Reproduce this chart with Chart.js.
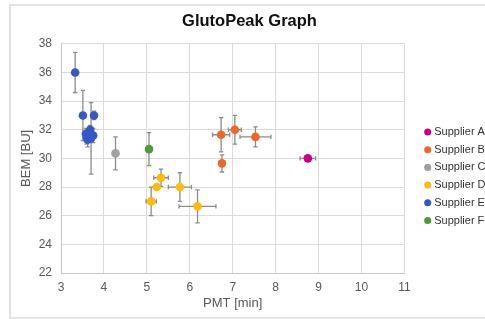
<!DOCTYPE html>
<html lang="en">
<head>
<meta charset="UTF-8">
<title>GlutoPeak Graph</title>
<script src="https://cdn.jsdelivr.net/npm/chart.js"></script>
<style>
  body { margin: 0; background: #fff; font-family: "Liberation Sans", Arial, sans-serif; }
  #frame { position: absolute; left: 9px; top: 4px; width: 490px; height: 311px; border: 2px solid #e4e4e4; border-right: none; }
  #wrap { position: absolute; left: 0; top: 0; width: 485px; height: 319px; }
</style>
</head>
<body>
<div id="frame"></div>
<div id="wrap"><canvas id="chart" width="485" height="319"></canvas></div>
<script>
// x = PMT [min], y = BEM [BU], xErr / yErr = half-length of error bars
const supplierNames = ['Supplier A', 'Supplier B', 'Supplier C', 'Supplier D', 'Supplier E', 'Supplier F'];
const supplierColors = ['#c8007f', '#e8692a', '#a0a0a0', '#fdbb0a', '#3557c8', '#4d9a37'];

const aX = [8.75], aY = [30.0], aXErr = [0.18], aYErr = [0.1];
const bX = [6.73, 7.05, 7.53, 6.75], bY = [31.65, 32.0, 31.5, 29.65];
const bXErr = [0.2, 0.15, 0.36, 0.06], bYErr = [1.2, 1.0, 0.7, 0.6];
const cX = [4.27], cY = [30.35], cXErr = [0], cYErr = [1.15];
const dX = [5.1, 5.23, 5.33, 5.77, 6.18], dY = [27.0, 28.0, 28.65, 28.0, 26.65];
const dXErr = [0.12, 0.05, 0.17, 0.27, 0.43], dYErr = [1.0, 0.1, 0.6, 1.0, 1.15];
const eX = [3.33, 3.51, 3.77, 3.6, 3.66, 3.68, 3.75, 3.62, 3.7, 3.58];
const eY = [36.0, 33.0, 33.0, 31.5, 31.8, 32.0, 31.6, 31.3, 31.4, 31.7];
const eXErr = [0, 0, 0, 0.05, 0.05, 0.05, 0.05, 0.05, 0, 0.04];
const eYErr = [1.4, 1.75, 0.3, 0.5, 0.4, 0.3, 0.5, 0.5, 2.5, 0.4];
const fX = [5.05], fY = [30.65], fXErr = [0], fYErr = [1.15];

const xTicks = [3, 4, 5, 6, 7, 8, 9, 10, 11];
const yTicks = [22, 24, 26, 28, 30, 32, 34, 36, 38];

const allX = [aX, bX, cX, dX, eX, fX];
const allY = [aY, bY, cY, dY, eY, fY];
const allXErr = [aXErr, bXErr, cXErr, dXErr, eXErr, fXErr];
const allYErr = [aYErr, bYErr, cYErr, dYErr, eYErr, fYErr];

const datasets = supplierNames.map((name, i) => ({
    label: name,
    data: allX[i].map((x, j) => ({ x: x, y: allY[i][j], xErr: allXErr[i][j], yErr: allYErr[i][j] })),
    backgroundColor: supplierColors[i],
    borderColor: supplierColors[i],
    pointRadius: 4.3,
    pointHoverRadius: 4.3,
    borderWidth: 0
}));

// error bars, drawn under the points
const errorBars = {
    id: 'errorBars',
    beforeDatasetsDraw(chart) {
        const ctx = chart.ctx;
        const xs = chart.scales.x, ys = chart.scales.y;
        const cap = 2.2;
        ctx.save();
        ctx.strokeStyle = '#8c8c8c';
        ctx.lineWidth = 1.3;
        chart.data.datasets.forEach(ds => {
            ds.data.forEach(p => {
                const px = xs.getPixelForValue(p.x), py = ys.getPixelForValue(p.y);
                ctx.beginPath();
                if (p.yErr > 0) {
                    const t = ys.getPixelForValue(p.y + p.yErr), b = ys.getPixelForValue(p.y - p.yErr);
                    ctx.moveTo(px, t); ctx.lineTo(px, b);
                    ctx.moveTo(px - cap, t); ctx.lineTo(px + cap, t);
                    ctx.moveTo(px - cap, b); ctx.lineTo(px + cap, b);
                }
                if (p.xErr > 0) {
                    const l = xs.getPixelForValue(p.x - p.xErr), r = xs.getPixelForValue(p.x + p.xErr);
                    ctx.moveTo(l, py); ctx.lineTo(r, py);
                    ctx.moveTo(l, py - cap); ctx.lineTo(l, py + cap);
                    ctx.moveTo(r, py - cap); ctx.lineTo(r, py + cap);
                }
                ctx.stroke();
            });
        });
        ctx.restore();
    }
};

// push the legend a bit further right/down than chart.js puts it
const legendShift = {
    id: 'legendShift',
    afterLayout(chart) {
        const lg = chart.legend;
        const w = lg.right - lg.left;
        lg.left = 420; lg.right = 420 + w;
        lg.top = 20; lg.bottom = 332.5;
    }
};

Chart.defaults.font.family = '"Liberation Sans", Arial, sans-serif';
Chart.defaults.color = '#595959';

new Chart(document.getElementById('chart'), {
    type: 'scatter',
    data: { datasets: datasets },
    plugins: [errorBars, legendShift],
    options: {
        responsive: false,
        animation: false,
        layout: { padding: { left: 19, right: 5, top: 10, bottom: 8 } },
        plugins: {
            title: {
                display: true,
                text: 'GlutoPeak Graph',
                color: '#111',
                font: { size: 16.5, weight: 'bold' },
                padding: { top: 2, bottom: 12 }
            },
            legend: {
                position: 'right',
                maxWidth: 76,
                labels: {
                    usePointStyle: true,
                    pointStyle: 'circle',
                    boxWidth: 2,
                    boxHeight: 5,
                    padding: 6.7,
                    color: '#333',
                    font: { size: 11 }
                }
            },
            tooltip: { enabled: false }
        },
        scales: {
            x: {
                type: 'linear',
                min: 3, max: 11,
                afterBuildTicks: axis => { axis.ticks = xTicks.map(v => ({ value: v })); },
                afterFit: axis => { axis.height = 38; },
                grid: { color: '#dcdcdc', drawTicks: false, tickLength: 0 },
                border: { color: '#c8c8c8' },
                ticks: { font: { size: 12 }, padding: 7 },
                title: { display: true, text: 'PMT [min]', font: { size: 13 }, padding: { top: 1, bottom: 0 } }
            },
            y: {
                type: 'linear',
                min: 22, max: 38,
                afterBuildTicks: axis => { axis.ticks = yTicks.map(v => ({ value: v })); },
                afterFit: axis => { axis.width = 42; },
                grid: { color: '#dcdcdc', drawTicks: false, tickLength: 0 },
                border: { color: '#c8c8c8' },
                ticks: { font: { size: 12 }, padding: 9 },
                title: { display: true, text: 'BEM [BU]', font: { size: 13 }, padding: { top: 0, bottom: 5 } }
            }
        }
    }
});
</script>
</body>
</html>
